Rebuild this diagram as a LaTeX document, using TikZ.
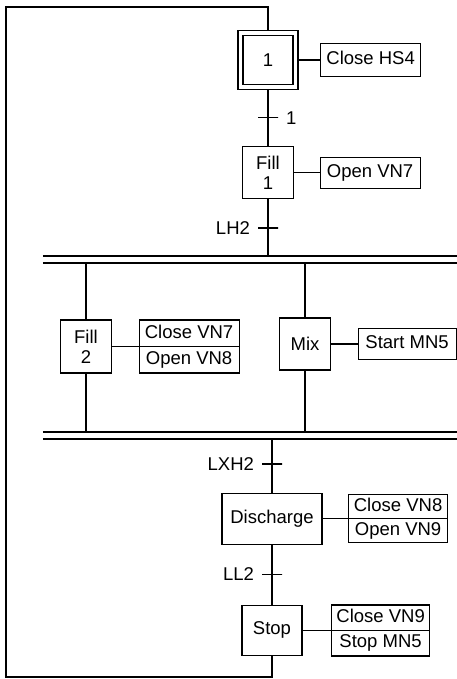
\documentclass[tikz,border=0pt]{standalone}
\usepackage{fontspec}
\setmainfont{Liberation Sans}
\usetikzlibrary{positioning}

\begin{document}
\begin{tikzpicture}[
    x=1pt, y=-1pt,
    font=\fontsize{18.5}{20}\selectfont,
    node distance = 28pt and 26pt,
    stepbox/.style = {rectangle, draw=black, line width=1.2pt,
                      minimum width=51pt, minimum height=52pt,
                      align=center, inner sep=2pt},
    act/.style     = {rectangle, draw=black, line width=1.1pt, outer sep=0pt,
                      minimum width=100pt, minimum height=25pt,
                      text height=13pt, text depth=3.5pt, inner xsep=3pt},
    trans/.style   = {rectangle, draw=black, line width=1.1pt,
                      minimum width=20pt, minimum height=0pt, inner sep=0pt},
    bar/.style     = {rectangle, minimum width=414pt, minimum height=7pt, inner sep=0pt},
    flow/.style    = {line width=1.8pt},
    link/.style    = {line width=1.3pt}
]
\useasboundingbox (0,0) rectangle (457,679);

%% -- Initial step and first sequence ------------------------
\node[stepbox, minimum width=60pt, minimum height=59pt] (s1) at (268,60) {};
\node[stepbox, minimum width=50pt, minimum height=49pt] (s1in) at (s1) {1};
\node[act, minimum height=33pt, right=22pt of s1] (a_hs4) {Close HS4};

\node[trans, below=27pt of s1, label={[label distance=4pt]right:1}] (t1) {};
\node[stepbox, below=28pt of t1] (fill1) {Fill\\1};
\node[act, minimum height=31pt, right=of fill1] (a_vn7) {Open VN7};
\node[trans, below=28pt of fill1, label={[label distance=4pt]left:LH2}] (t_lh2) {};

%% -- Parallel branches ----------------------------------------
\node[bar] (bar1) at (250,259.5) {};
\node[bar] (bar2) at (250,435.5) {};

\node[stepbox, minimum height=53pt] (fill2) at (86,346.5) {Fill\\2};
\node[act, minimum height=26.5pt, above right=0pt and 27pt of fill2.east] (a_vn7c) {Close VN7};
\node[act, minimum height=26.5pt, below=0pt of a_vn7c] (a_vn8o) {Open VN8};

\node[stepbox] (mix) at (305,344) {Mix};
\node[act, minimum width=98pt, minimum height=31pt, right=27pt of mix] (a_mn5) {Start MN5};

%% -- Final sequence -----------------------------------------
\node[trans, label={[label distance=4pt]left:LXH2}] (t_lxh2) at (272,464) {};
\node[stepbox, minimum width=100pt, minimum height=51pt, below=28pt of t_lxh2] (dis) {Discharge};
\node[act, minimum width=99pt, minimum height=24pt, above right=0pt and 26pt of dis.east] (a_vn8c) {Close VN8};
\node[act, minimum width=99pt, minimum height=24pt, below=0pt of a_vn8c] (a_vn9o) {Open VN9};

\node[trans, below=29pt of dis, label={[label distance=4pt]left:LL2}] (t_ll2) {};
\node[stepbox, minimum width=60pt, minimum height=50pt, below=30pt of t_ll2] (stop) {Stop};
\node[act, minimum width=98pt, minimum height=25.5pt, above right=0pt and 29pt of stop.east] (a_vn9c) {Close VN9};
\node[act, minimum width=98pt, minimum height=25.5pt, below=0pt of a_vn9c] (a_mn5s) {Stop MN5};

\coordinate (lb) at (6,677);
\coordinate (lt) at (6,7);

%% -- Connectors -----------------------------------------------
\draw[flow] (s1) -- (t1) -- (fill1) -- (t_lh2) -- (t_lh2 |- bar1.north);
\draw[flow] (bar1.north west) -- (bar1.north east);
\draw[flow] (bar1.south west) -- (bar1.south east);
\draw[flow] (bar1.south -| fill2) -- (fill2) -- (bar2.north -| fill2);
\draw[flow] (bar1.south -| mix) -- (mix) -- (bar2.north -| mix);
\draw[flow] (bar2.north west) -- (bar2.north east);
\draw[flow] (bar2.south west) -- (bar2.south east);
\draw[flow] (bar2.south -| t_lxh2) -- (t_lxh2) -- (dis) -- (t_ll2) -- (stop);
\draw[flow] (stop) -- (stop |- lb) -- (lb) -- (lt) -- (lt -| s1) -- (s1);

\draw[link] (s1) -- (a_hs4);
\draw[link] (fill1) -- (a_vn7);
\draw[link] (fill2) -- (a_vn7c.south west);
\draw[link] (mix) -- (a_mn5);
\draw[link] (dis) -- (a_vn8c.south west);
\draw[link] (stop) -- (a_vn9c.south west);

\end{tikzpicture}
\end{document}
